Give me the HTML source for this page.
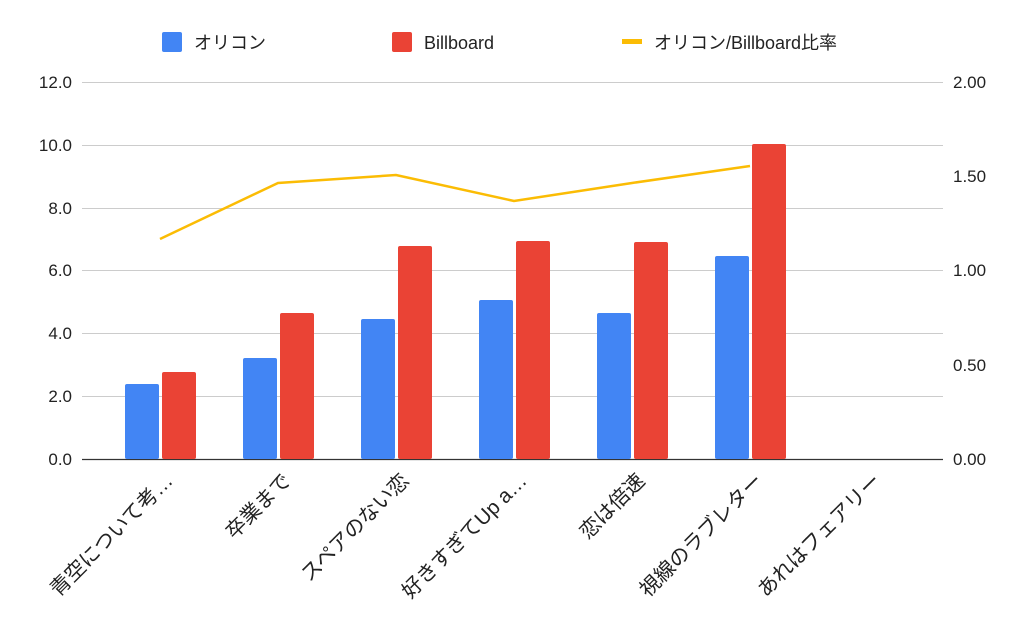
<!DOCTYPE html>
<html><head><meta charset="utf-8"><style>
html,body{margin:0;padding:0;background:#fff;}
svg text{font-family:"Liberation Sans","Noto Sans CJK JP",sans-serif;fill:#222;}
</style></head><body>
<svg width="1024" height="633" viewBox="0 0 1024 633" xmlns="http://www.w3.org/2000/svg">
<rect width="1024" height="633" fill="#fff"/>
<g stroke="#ccc" stroke-width="1">
<line x1="82" x2="943" y1="82.5" y2="82.5"/>
<line x1="82" x2="943" y1="145.5" y2="145.5"/>
<line x1="82" x2="943" y1="208.5" y2="208.5"/>
<line x1="82" x2="943" y1="270.5" y2="270.5"/>
<line x1="82" x2="943" y1="333.5" y2="333.5"/>
<line x1="82" x2="943" y1="396.5" y2="396.5"/>
</g>
<line x1="82" x2="943" y1="459.5" y2="459.5" stroke="#333" stroke-width="1.3"/>
<g font-size="17" text-anchor="end">
<text x="72" y="88">12.0</text><text x="72" y="151">10.0</text><text x="72" y="214">8.0</text>
<text x="72" y="276">6.0</text><text x="72" y="339">4.0</text><text x="72" y="402">2.0</text><text x="72" y="465">0.0</text>
</g>
<g font-size="17" text-anchor="start">
<text x="953" y="88">2.00</text><text x="953" y="182">1.50</text><text x="953" y="276">1.00</text>
<text x="953" y="371">0.50</text><text x="953" y="465">0.00</text>
</g>
<g fill="#4285f4">
<rect x="125" y="384" width="34" height="75" rx="2"/>
<rect x="243" y="358" width="34" height="101" rx="2"/>
<rect x="361" y="319" width="34" height="140" rx="2"/>
<rect x="479" y="300" width="34" height="159" rx="2"/>
<rect x="597" y="313" width="34" height="146" rx="2"/>
<rect x="715" y="256" width="34" height="203" rx="2"/>
</g>
<g fill="#ea4335">
<rect x="162" y="372" width="34" height="87" rx="2"/>
<rect x="280" y="313" width="34" height="146" rx="2"/>
<rect x="398" y="246" width="34" height="213" rx="2"/>
<rect x="516" y="241" width="34" height="218" rx="2"/>
<rect x="634" y="242" width="34" height="217" rx="2"/>
<rect x="752" y="144" width="34" height="315" rx="2"/>
</g>
<polyline points="160,239 278,183 396,175 514,201 632,183 750,166" fill="none" stroke="#fbbc04" stroke-width="2.5"/>
<g font-size="20.5" text-anchor="end">
<text transform="translate(174,482) rotate(-45)">青空について考…</text>
<text transform="translate(292,482) rotate(-45)">卒業まで</text>
<text transform="translate(410,482) rotate(-45)">スペアのない恋</text>
<text transform="translate(528,482) rotate(-45)">好きすぎてUp a…</text>
<text transform="translate(646,482) rotate(-45)">恋は倍速</text>
<text transform="translate(764,482) rotate(-45)">視線のラブレター</text>
<text transform="translate(882,482) rotate(-45)">あれはフェアリー</text>
</g>
<rect x="162" y="32" width="20" height="20" rx="2" fill="#4285f4"/>
<text x="194" y="49" font-size="18">オリコン</text>
<rect x="392" y="32" width="20" height="20" rx="2" fill="#ea4335"/>
<text x="424" y="49" font-size="18">Billboard</text>
<rect x="622" y="39" width="20" height="5" fill="#fbbc04"/>
<text x="654" y="49" font-size="18">オリコン/Billboard比率</text>
</svg>
</body></html>
